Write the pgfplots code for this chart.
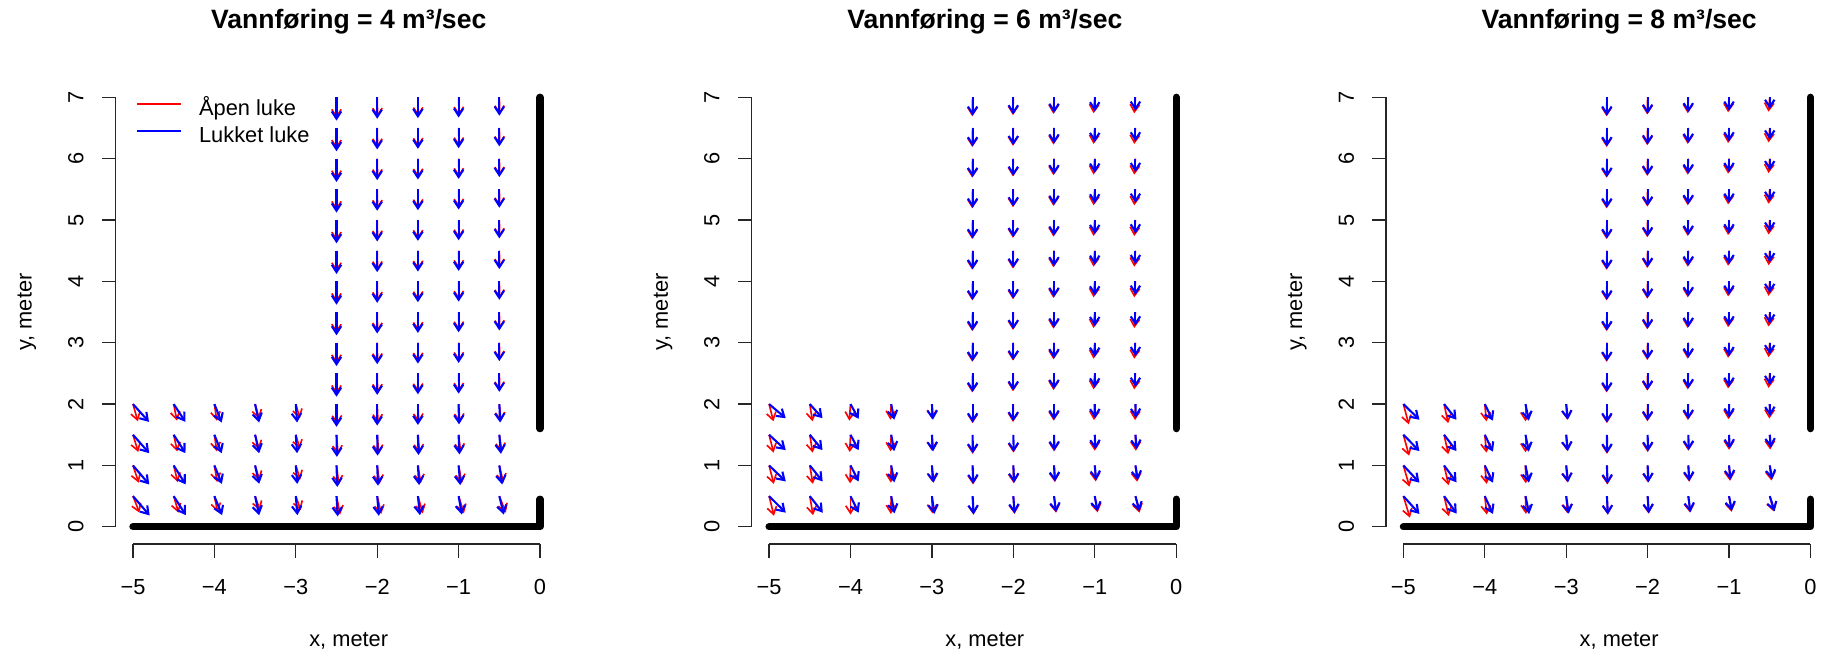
\documentclass[border=0pt]{standalone}
\usepackage{fontspec}
\setmainfont{Liberation Sans}
\usepackage{pgfplots}
\usepackage{pgfplotstable}
\pgfplotsset{compat=1.18}
\usetikzlibrary{arrows.meta}

% x y, then (u,v) for open gate (red) and closed gate (blue), in metres
\pgfplotstableread{
x y ur vr ub vb
-5 0.5 0.08 -0.27 0.205 -0.315
-5 1 0.07 -0.28 0.2 -0.31
-5 1.5 0.065 -0.28 0.2 -0.3
-5 2 0.06 -0.28 0.197 -0.29
-4.5 0.5 0.06 -0.27 0.15 -0.31
-4.5 1 0.05 -0.27 0.148 -0.31
-4.5 1.5 0.045 -0.27 0.145 -0.3
-4.5 2 0.04 -0.27 0.144 -0.29
-4 0.5 0.04 -0.26 0.095 -0.31
-4 1 0.035 -0.27 0.092 -0.3
-4 1.5 0.03 -0.27 0.09 -0.3
-4 2 0.03 -0.27 0.09 -0.3
-3.5 0.5 0.06 -0.23 0.05 -0.31
-3.5 1 0.055 -0.24 0.05 -0.3
-3.5 1.5 0.05 -0.24 0.05 -0.3
-3.5 2 0.05 -0.24 0.05 -0.3
-3 0.5 0.06 -0.23 0.02 -0.31
-3 1 0.055 -0.23 0.018 -0.3
-3 1.5 0.05 -0.23 0.016 -0.3
-3 2 0.05 -0.23 0.016 -0.3
-2.5 0.5 0.045 -0.3 0.015 -0.33
-2.5 1 0.03 -0.31 0.01 -0.35
-2.5 1.5 0.02 -0.32 0.005 -0.36
-2.5 2 0.01 -0.33 0 -0.37
-2.5 2.5 0 -0.34 0 -0.38
-2.5 3 0 -0.34 0 -0.38
-2.5 3.5 0 -0.34 0 -0.38
-2.5 4 0 -0.34 0 -0.38
-2.5 4.5 0 -0.34 0 -0.38
-2.5 5 0 -0.34 0 -0.38
-2.5 5.5 0 -0.34 0 -0.38
-2.5 6 0 -0.34 0 -0.38
-2.5 6.5 0 -0.34 0 -0.38
-2.5 7 0 -0.34 0 -0.38
-2 0.5 0.05 -0.29 0.02 -0.32
-2 1 0.03 -0.3 0.01 -0.33
-2 1.5 0.02 -0.31 0.005 -0.34
-2 2 0.01 -0.31 0 -0.35
-2 2.5 0.005 -0.32 0 -0.35
-2 3 0.005 -0.32 0 -0.35
-2 3.5 0.005 -0.32 0 -0.35
-2 4 0.005 -0.32 0 -0.35
-2 4.5 0.005 -0.32 0 -0.35
-2 5 0.005 -0.32 0 -0.35
-2 5.5 0.005 -0.32 0 -0.35
-2 6 0.005 -0.32 0 -0.35
-2 6.5 0.005 -0.32 0 -0.35
-2 7 0.005 -0.32 0 -0.35
-1.5 0.5 0.06 -0.28 0.025 -0.31
-1.5 1 0.035 -0.29 0.015 -0.32
-1.5 1.5 0.02 -0.3 0.008 -0.33
-1.5 2 0.01 -0.3 0 -0.34
-1.5 2.5 0.005 -0.31 0 -0.34
-1.5 3 0.005 -0.31 0 -0.34
-1.5 3.5 0.005 -0.31 0 -0.34
-1.5 4 0.005 -0.31 0 -0.34
-1.5 4.5 0.005 -0.31 0 -0.34
-1.5 5 0.005 -0.31 0 -0.34
-1.5 5.5 0.005 -0.31 0 -0.34
-1.5 6 0.005 -0.31 0 -0.34
-1.5 6.5 0.005 -0.31 0 -0.34
-1.5 7 0.005 -0.31 0 -0.34
-1 0.5 0.065 -0.28 0.04 -0.3
-1 1 0.04 -0.29 0.02 -0.32
-1 1.5 0.025 -0.29 0.01 -0.32
-1 2 0.015 -0.3 0.005 -0.33
-1 2.5 0.005 -0.3 0 -0.33
-1 3 0.005 -0.3 0 -0.33
-1 3.5 0.005 -0.3 0 -0.33
-1 4 0.005 -0.3 0 -0.33
-1 4.5 0.005 -0.3 0 -0.33
-1 5 0.005 -0.3 0 -0.33
-1 5.5 0.005 -0.3 0 -0.33
-1 6 0.005 -0.3 0 -0.33
-1 6.5 0.005 -0.3 0 -0.33
-1 7 0.005 -0.3 0 -0.33
-0.5 0.5 0.08 -0.27 0.055 -0.3
-0.5 1 0.05 -0.28 0.035 -0.31
-0.5 1.5 0.03 -0.28 0.02 -0.31
-0.5 2 0.02 -0.28 0.01 -0.3
-0.5 2.5 0.005 -0.28 0 -0.3
-0.5 3 0.005 -0.28 0 -0.3
-0.5 3.5 0.005 -0.28 0 -0.3
-0.5 4 0.005 -0.28 0 -0.3
-0.5 4.5 0.005 -0.28 0 -0.3
-0.5 5 0.005 -0.28 0 -0.3
-0.5 5.5 0.005 -0.28 0 -0.3
-0.5 6 0.005 -0.28 0 -0.3
-0.5 6.5 0.005 -0.28 0 -0.3
-0.5 7 0.005 -0.28 0 -0.3
}\feltA

\pgfplotstableread{
x y ur vr ub vb
-5 0.5 0.06 -0.32 0.205 -0.27
-5 1 0.058 -0.3 0.205 -0.26
-5 1.5 0.055 -0.29 0.205 -0.25
-5 2 0.053 -0.28 0.205 -0.23
-4.5 0.5 0.04 -0.31 0.16 -0.27
-4.5 1 0.038 -0.3 0.158 -0.26
-4.5 1.5 0.035 -0.29 0.156 -0.25
-4.5 2 0.033 -0.28 0.156 -0.23
-4 0.5 0 -0.3 0.1 -0.27
-4 1 -0.005 -0.29 0.1 -0.26
-4 1.5 -0.01 -0.28 0.1 -0.25
-4 2 -0.015 -0.27 0.1 -0.24
-3.5 0.5 -0.005 -0.29 0.04 -0.28
-3.5 1 -0.005 -0.28 0.038 -0.275
-3.5 1.5 -0.008 -0.27 0.037 -0.265
-3.5 2 -0.01 -0.255 0.037 -0.255
-3 0.5 0.005 -0.28 0.03 -0.29
-3 1 0.005 -0.27 0.02 -0.28
-3 1.5 0 -0.26 0.014 -0.27
-3 2 0 -0.24 0.012 -0.255
-2.5 0.5 0.01 -0.3 0.012 -0.3
-2.5 1 0.005 -0.31 0.008 -0.3
-2.5 1.5 0 -0.31 0.003 -0.3
-2.5 2 0 -0.31 0 -0.3
-2.5 2.5 -0.005 -0.31 0 -0.3
-2.5 3 -0.005 -0.31 0 -0.3
-2.5 3.5 -0.005 -0.31 0 -0.3
-2.5 4 -0.005 -0.31 0 -0.3
-2.5 4.5 -0.005 -0.31 0 -0.3
-2.5 5 -0.005 -0.31 0 -0.3
-2.5 5.5 -0.005 -0.31 0 -0.3
-2.5 6 -0.005 -0.31 0 -0.3
-2.5 6.5 -0.005 -0.31 0 -0.3
-2.5 7 -0.005 -0.31 0 -0.3
-2 0.5 0.015 -0.29 0.015 -0.28
-2 1 0.005 -0.29 0.01 -0.28
-2 1.5 0 -0.29 0.005 -0.28
-2 2 -0.005 -0.29 0 -0.28
-2 2.5 -0.005 -0.29 0 -0.28
-2 3 -0.005 -0.29 0 -0.28
-2 3.5 -0.005 -0.29 0 -0.28
-2 4 -0.005 -0.29 0 -0.28
-2 4.5 -0.005 -0.29 0 -0.28
-2 5 -0.005 -0.29 0 -0.28
-2 5.5 -0.005 -0.29 0 -0.28
-2 6 -0.005 -0.29 0 -0.28
-2 6.5 -0.005 -0.29 0 -0.28
-2 7 -0.005 -0.29 0 -0.28
-1.5 0.5 0.025 -0.27 0.025 -0.26
-1.5 1 0.01 -0.27 0.012 -0.26
-1.5 1.5 0 -0.27 0.005 -0.26
-1.5 2 -0.005 -0.27 0 -0.255
-1.5 2.5 -0.008 -0.27 0 -0.255
-1.5 3 -0.008 -0.27 0 -0.255
-1.5 3.5 -0.008 -0.27 0 -0.255
-1.5 4 -0.008 -0.27 0 -0.255
-1.5 4.5 -0.008 -0.27 0 -0.255
-1.5 5 -0.008 -0.27 0 -0.255
-1.5 5.5 -0.008 -0.27 0 -0.255
-1.5 6 -0.008 -0.27 0 -0.255
-1.5 6.5 -0.008 -0.27 0 -0.255
-1.5 7 -0.008 -0.27 0 -0.255
-1 0.5 0.035 -0.265 0.035 -0.245
-1 1 0.012 -0.26 0.018 -0.24
-1 1.5 0 -0.26 0.008 -0.235
-1 2 -0.01 -0.26 0.003 -0.23
-1 2.5 -0.015 -0.26 0 -0.23
-1 3 -0.015 -0.26 0 -0.23
-1 3.5 -0.015 -0.26 0 -0.23
-1 4 -0.015 -0.26 0 -0.23
-1 4.5 -0.015 -0.26 0 -0.23
-1 5 -0.015 -0.26 0 -0.23
-1 5.5 -0.015 -0.26 0 -0.23
-1 6 -0.015 -0.26 0 -0.23
-1 6.5 -0.015 -0.26 0 -0.23
-1 7 -0.015 -0.26 0 -0.23
-0.5 0.5 0.05 -0.27 0.05 -0.245
-0.5 1 0.02 -0.265 0.03 -0.24
-0.5 1.5 0.005 -0.26 0.015 -0.235
-0.5 2 -0.005 -0.26 0.005 -0.225
-0.5 2.5 -0.015 -0.26 0 -0.22
-0.5 3 -0.015 -0.26 0 -0.22
-0.5 3.5 -0.015 -0.26 0 -0.22
-0.5 4 -0.015 -0.26 0 -0.22
-0.5 4.5 -0.015 -0.26 0 -0.22
-0.5 5 -0.015 -0.26 0 -0.22
-0.5 5.5 -0.015 -0.26 0 -0.22
-0.5 6 -0.015 -0.26 0 -0.22
-0.5 6.5 -0.015 -0.26 0 -0.22
-0.5 7 -0.015 -0.26 0 -0.22
}\feltB

\pgfplotstableread{
x y ur vr ub vb
-5 0.5 0.08 -0.35 0.197 -0.29
-5 1 0.075 -0.345 0.197 -0.28
-5 1.5 0.07 -0.34 0.197 -0.265
-5 2 0.066 -0.33 0.197 -0.255
-4.5 0.5 0.058 -0.325 0.155 -0.285
-4.5 1 0.055 -0.32 0.153 -0.275
-4.5 1.5 0.052 -0.315 0.152 -0.265
-4.5 2 0.05 -0.31 0.152 -0.255
-4 0.5 0.025 -0.3 0.1 -0.29
-4 1 0.022 -0.3 0.1 -0.28
-4 1.5 0.02 -0.29 0.1 -0.275
-4 2 0.02 -0.28 0.1 -0.27
-3.5 0.5 0.005 -0.29 0.045 -0.29
-3.5 1 0.003 -0.29 0.042 -0.28
-3.5 1.5 0 -0.285 0.04 -0.275
-3.5 2 0 -0.28 0.04 -0.27
-3 0.5 0.015 -0.28 0.03 -0.285
-3 1 0.012 -0.27 0.022 -0.275
-3 1.5 0.01 -0.26 0.02 -0.265
-3 2 0.01 -0.25 0.02 -0.255
-2.5 0.5 0.01 -0.3 0.012 -0.3
-2.5 1 0.005 -0.31 0.008 -0.3
-2.5 1.5 0 -0.31 0.003 -0.3
-2.5 2 0 -0.31 0 -0.3
-2.5 2.5 -0.005 -0.31 0 -0.3
-2.5 3 -0.005 -0.31 0 -0.3
-2.5 3.5 -0.005 -0.31 0 -0.3
-2.5 4 -0.005 -0.31 0 -0.3
-2.5 4.5 -0.005 -0.31 0 -0.3
-2.5 5 -0.005 -0.31 0 -0.3
-2.5 5.5 -0.005 -0.31 0 -0.3
-2.5 6 -0.005 -0.31 0 -0.3
-2.5 6.5 -0.005 -0.31 0 -0.3
-2.5 7 -0.005 -0.31 0 -0.3
-2 0.5 0.012 -0.285 0.015 -0.28
-2 1 0.005 -0.28 0.01 -0.275
-2 1.5 0 -0.28 0.005 -0.27
-2 2 -0.003 -0.28 0 -0.27
-2 2.5 -0.005 -0.28 0 -0.27
-2 3 -0.005 -0.28 0 -0.27
-2 3.5 -0.005 -0.28 0 -0.27
-2 4 -0.005 -0.28 0 -0.27
-2 4.5 -0.005 -0.28 0 -0.27
-2 5 -0.005 -0.28 0 -0.27
-2 5.5 -0.005 -0.28 0 -0.27
-2 6 -0.005 -0.28 0 -0.27
-2 6.5 -0.005 -0.28 0 -0.27
-2 7 -0.005 -0.28 0 -0.27
-1.5 0.5 0.022 -0.27 0.025 -0.26
-1.5 1 0.01 -0.265 0.012 -0.255
-1.5 1.5 0 -0.26 0.005 -0.25
-1.5 2 -0.005 -0.26 0 -0.245
-1.5 2.5 -0.008 -0.26 0 -0.245
-1.5 3 -0.008 -0.26 0 -0.245
-1.5 3.5 -0.008 -0.26 0 -0.245
-1.5 4 -0.008 -0.26 0 -0.245
-1.5 4.5 -0.008 -0.26 0 -0.245
-1.5 5 -0.008 -0.26 0 -0.245
-1.5 5.5 -0.008 -0.26 0 -0.245
-1.5 6 -0.008 -0.26 0 -0.245
-1.5 6.5 -0.008 -0.26 0 -0.245
-1.5 7 -0.008 -0.26 0 -0.245
-1 0.5 0.03 -0.255 0.035 -0.24
-1 1 0.012 -0.25 0.018 -0.23
-1 1.5 0 -0.245 0.008 -0.225
-1 2 -0.008 -0.245 0.003 -0.22
-1 2.5 -0.012 -0.245 0 -0.22
-1 3 -0.012 -0.245 0 -0.22
-1 3.5 -0.012 -0.245 0 -0.22
-1 4 -0.012 -0.245 0 -0.22
-1 4.5 -0.012 -0.245 0 -0.22
-1 5 -0.012 -0.245 0 -0.22
-1 5.5 -0.012 -0.245 0 -0.22
-1 6 -0.012 -0.245 0 -0.22
-1 6.5 -0.012 -0.245 0 -0.22
-1 7 -0.012 -0.245 0 -0.22
-0.5 0.5 0.05 -0.25 0.06 -0.245
-0.5 1 0.02 -0.245 0.03 -0.225
-0.5 1.5 0.005 -0.24 0.015 -0.21
-0.5 2 -0.005 -0.235 0.005 -0.195
-0.5 2.5 -0.015 -0.235 0 -0.19
-0.5 3 -0.015 -0.235 0 -0.19
-0.5 3.5 -0.015 -0.235 0 -0.19
-0.5 4 -0.015 -0.235 0 -0.19
-0.5 4.5 -0.015 -0.235 0 -0.19
-0.5 5 -0.015 -0.235 0 -0.19
-0.5 5.5 -0.015 -0.235 0 -0.19
-0.5 6 -0.015 -0.235 0 -0.19
-0.5 6.5 -0.015 -0.235 0 -0.19
-0.5 7 -0.015 -0.235 0 -0.19
}\feltC

\pgfplotsset{
  rpanel/.style={
    scale only axis, width=256.3pt, height=255.15pt, anchor=south west,
    xmin=-5.212, xmax=0.512, ymin=-0.28, ymax=7.28,
    axis x line*=bottom, axis y line*=left,
    axis line style={draw=none},
    clip=false,
    tick align=outside, major tick length=7.6pt,
    major tick style={black!85, line width=0.7pt},
    xtick={-5,-4,-3,-2,-1,0}, xticklabels={−5,−4,−3,−2,−1,0},
    ytick={0,1,2,3,4,5,6,7},
    /pgf/number format/assume math mode=true,
    tick label style={font=\fontsize{12}{14}\selectfont},
    xticklabel style={anchor=base, yshift=-19.9pt},
    yticklabel style={xshift=-10.2pt, rotate=90, anchor=base},
    xlabel={x, meter}, ylabel={y, meter},
    label style={font=\fontsize{12}{14}\selectfont},
    xlabel style={at={(axis description cs:0.5,-0.22)}, anchor=base},
    ylabel style={at={(axis description cs:-0.1803,0.5)}, anchor=base},
    title style={at={(axis description cs:0.5,1.0875)}, anchor=base,
      font=\fontsize{14.6}{17}\selectfont\bfseries},
  },
  rarrow/.style={line width=0.9pt, -{Straight Barb[length=4pt,width=5.2pt]}},
  barrow/.style={line width=1.15pt, -{Straight Barb[length=4pt,width=5.2pt]}},
  wall/.style={black, line width=4pt, line cap=round, line join=round},
}

\begin{document}
\begin{tikzpicture}

\begin{axis}[rpanel, at={(63.64pt,62.7pt)},
  title={Vannføring = 4 m³/sec},
  legend image code/.code={\draw[#1] (0pt,3.5pt) -- (23.8pt,3.5pt);},
  legend style={draw=none, fill=none, inner sep=0pt, row sep=3.5pt,
    at={(axis description cs:0.0436,0.9575)}, anchor=north west,
    font=\fontsize{12}{14}\selectfont,
    nodes={inner sep=0pt, text height=8.6pt, text depth=2.6pt},
    /tikz/every odd column/.append style={column sep=9.5pt}},
  legend cell align=left]
\draw[black!85, line width=0.7pt] (axis cs:-5,-0.28) -- (axis cs:0,-0.28);
\draw[black!85, line width=0.7pt] (axis cs:-5.212,0) -- (axis cs:-5.212,7);
\addlegendimage{red, line width=1.2pt}
\addlegendentry{Åpen luke}
\addlegendimage{blue, line width=1.2pt}
\addlegendentry{Lukket luke}
\addplot[red, rarrow, forget plot, quiver={u=\thisrow{ur}, v=\thisrow{vr}}] table[x=x, y=y] {\feltA};
\addplot[blue, barrow, forget plot, quiver={u=\thisrow{ub}, v=\thisrow{vb}}] table[x=x, y=y] {\feltA};
\addplot[wall, forget plot] coordinates {(-5,0) (0,0) (0,0.45)};
\addplot[wall, forget plot] coordinates {(0,1.6) (0,7)};
\end{axis}

\begin{axis}[rpanel, at={(413.5pt,62.7pt)},
  title={Vannføring = 6 m³/sec}]
\draw[black!85, line width=0.7pt] (axis cs:-5,-0.28) -- (axis cs:0,-0.28);
\draw[black!85, line width=0.7pt] (axis cs:-5.212,0) -- (axis cs:-5.212,7);
\addplot[red, rarrow, quiver={u=\thisrow{ur}, v=\thisrow{vr}}] table[x=x, y=y] {\feltB};
\addplot[blue, barrow, quiver={u=\thisrow{ub}, v=\thisrow{vb}}] table[x=x, y=y] {\feltB};
\addplot[wall] coordinates {(-5,0) (0,0) (0,0.45)};
\addplot[wall] coordinates {(0,1.6) (0,7)};
\end{axis}

\begin{axis}[rpanel, at={(762.36pt,62.7pt)},
  title={Vannføring = 8 m³/sec}]
\draw[black!85, line width=0.7pt] (axis cs:-5,-0.28) -- (axis cs:0,-0.28);
\draw[black!85, line width=0.7pt] (axis cs:-5.212,0) -- (axis cs:-5.212,7);
\addplot[red, rarrow, quiver={u=\thisrow{ur}, v=\thisrow{vr}}] table[x=x, y=y] {\feltC};
\addplot[blue, barrow, quiver={u=\thisrow{ub}, v=\thisrow{vb}}] table[x=x, y=y] {\feltC};
\addplot[wall] coordinates {(-5,0) (0,0) (0,0.45)};
\addplot[wall] coordinates {(0,1.6) (0,7)};
\end{axis}

\pgfresetboundingbox
\path[use as bounding box] (0,0) rectangle (1002.65pt,361.9pt);
\end{tikzpicture}
\end{document}
